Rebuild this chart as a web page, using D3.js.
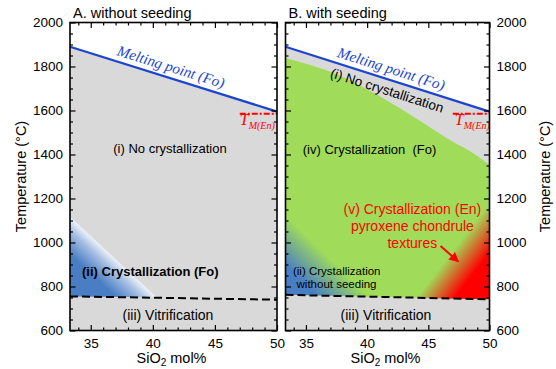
<!DOCTYPE html>
<html>
<head>
<meta charset="utf-8">
<script src="https://cdn.jsdelivr.net/npm/d3@7"></script>
<style>
  body { margin: 0; background: #fff; }
  svg { display: block; }
  text { font-family: "Liberation Sans", Arial, sans-serif; }
</style>
</head>
<body>
<div id="chart"></div>
<script>
// axis values
const xDomain = [33.33, 50];
const yDomain = [600, 2000];
const xMajorTicks = [35, 40, 45, 50];
const xMinorTicks = [34, 36, 37, 38, 39, 41, 42, 43, 44, 46, 47, 48, 49];
const yMajorTicks = [600, 800, 1000, 1200, 1400, 1600, 1800, 2000];

// boundaries, [SiO2 mol%, temperature C]
const meltingLineFo = [[33.33, 1890], [50, 1595]];
const meltingLineEn = [[47, 1585], [50, 1585]];
const glassLineA = [[33.33, 755], [50, 740]];
const glassLineB = [[33.33, 762], [50, 742]];
const unseededFoA = [[33.33, 1117], [40.3, 751], [33.33, 754]];
const unseededFoB = [[33.33, 1125], [40.2, 754], [33.33, 762]];
const seededFoTop = [[33.33, 1839], [37.8, 1758], [41.1, 1662], [44.4, 1550], [46.8, 1465], [48.9, 1398], [50, 1352]];
const seededEn = [[44.0, 748], [50, 742], [50, 1180]];

const WIDTH = 556;
const HEIGHT = 369;
const Y_RANGE = [330.5, 22.5];

const GRAY = '#d9d9d9';
const GREEN = '#a0dc5a';
const BLUE = '#4a7ec4';
const LINE_BLUE = '#1c44cf';
const RED = '#ff0000';

const svg = d3.select('#chart').append('svg').attr('width', WIDTH).attr('height', HEIGHT);
const defs = svg.append('defs');

const edgeGradient = (id, a, b, inner, depth, stops) => {
  const mx = (a[0] + b[0]) / 2;
  const my = (a[1] + b[1]) / 2;
  let nx = -(b[1] - a[1]);
  let ny = b[0] - a[0];
  const len = Math.hypot(nx, ny);
  nx /= len;
  ny /= len;
  if ((inner[0] - mx) * nx + (inner[1] - my) * ny < 0) {
    nx = -nx;
    ny = -ny;
  }
  const g = defs.append('linearGradient').attr('id', id)
    .attr('gradientUnits', 'userSpaceOnUse')
    .attr('x1', mx).attr('y1', my)
    .attr('x2', mx + nx * depth).attr('y2', my + ny * depth);
  stops.forEach(([offset, color, opacity]) => {
    g.append('stop').attr('offset', offset).attr('stop-color', color)
      .attr('stop-opacity', opacity === undefined ? 1 : opacity);
  });
  return `url(#${id})`;
};

const drawPanel = (panel) => {
  const x = d3.scaleLinear().domain(xDomain).range(panel.xRange);
  const y = d3.scaleLinear().domain(yDomain).range(Y_RANGE);
  const px = (d) => [x(d[0]), y(d[1])];
  const line = d3.line().x((d) => x(d[0])).y((d) => y(d[1]));
  const g = svg.append('g');

  // melt region below the Fo liquidus
  g.append('path')
    .attr('d', line([...meltingLineFo, [xDomain[1], yDomain[0]], [xDomain[0], yDomain[0]]]) + 'Z')
    .attr('fill', GRAY);

  panel.drawRegions(g, x, y, line, px);

  // glass transition
  g.append('path').attr('d', line(panel.glassLine))
    .attr('fill', 'none').attr('stroke', '#000')
    .attr('stroke-width', 2).attr('stroke-dasharray', '8,4');

  // liquidus
  g.append('path').attr('d', line(meltingLineFo))
    .attr('fill', 'none').attr('stroke', LINE_BLUE).attr('stroke-width', 2.2);
  g.append('path').attr('d', line(meltingLineEn))
    .attr('fill', 'none').attr('stroke', RED)
    .attr('stroke-width', 2).attr('stroke-dasharray', '6,2,2,2');

  const [p0, p1] = meltingLineFo.map(px);
  const angle = (Math.atan2(p1[1] - p0[1], p1[0] - p0[0]) * 180) / Math.PI;
  const slope = (meltingLineFo[1][1] - meltingLineFo[0][1]) / (meltingLineFo[1][0] - meltingLineFo[0][0]);
  const onLine = (sx) => [x(sx), y(meltingLineFo[0][1] + slope * (sx - meltingLineFo[0][0]))];

  const [mx, my] = onLine(panel.meltLabelX);
  g.append('text')
    .attr('transform', `translate(${mx},${my}) rotate(${angle})`)
    .attr('dy', -6).attr('text-anchor', 'middle')
    .style('font-family', '"Liberation Serif", "Times New Roman", serif')
    .style('font-style', 'italic').style('font-size', '15px')
    .attr('fill', LINE_BLUE).text('Melting point (Fo)');

  const tm = g.append('text')
    .attr('x', x(panel.tmLabelX)).attr('y', y(1534))
    .style('font-family', '"Liberation Serif", "Times New Roman", serif')
    .style('font-style', 'italic').attr('fill', RED);
  tm.append('tspan').style('font-size', '16px').text('T');
  tm.append('tspan').style('font-size', '10px').attr('dy', 4).text('M(En)');

  panel.drawLabels(g, x, y, onLine, angle);

  // frame and ticks
  g.append('rect')
    .attr('x', panel.xRange[0]).attr('y', Y_RANGE[1])
    .attr('width', panel.xRange[1] - panel.xRange[0])
    .attr('height', Y_RANGE[0] - Y_RANGE[1])
    .attr('fill', 'none').attr('stroke', '#000').attr('stroke-width', 1.6);

  const style = (sel) => {
    sel.select('.domain').remove();
    sel.selectAll('.tick line').attr('stroke-width', 1.2);
    sel.attr('font-size', 13.5).attr('font-family', '"Liberation Sans", Arial, sans-serif');
    sel.selectAll('.tick text').attr('fill', '#000');
  };
  const yMinorTicks = y.ticks(28).filter((t) => !yMajorTicks.includes(t));

  const axes = [
    [d3.axisBottom(x), `translate(0,${Y_RANGE[0]})`, xMajorTicks, xMinorTicks, true, 8],
    [d3.axisTop(x), `translate(0,${Y_RANGE[1]})`, xMajorTicks, xMinorTicks, false, 7],
    [d3.axisLeft(y), `translate(${panel.xRange[0]},0)`, yMajorTicks, yMinorTicks, panel.yLabels === 'left', 7],
    [d3.axisRight(y), `translate(${panel.xRange[1]},0)`, yMajorTicks, yMinorTicks, panel.yLabels === 'right', 7],
  ];
  axes.forEach(([axis, transform, major, minor, labelled, pad]) => {
    g.append('g').attr('transform', transform)
      .call(axis.tickValues(minor).tickSizeInner(-3).tickSizeOuter(0).tickFormat(''))
      .call(style);
    g.append('g').attr('transform', transform)
      .call(axis.tickValues(major).tickSizeInner(-5.5).tickSizeOuter(0)
        .tickPadding(pad)
        .tickFormat(labelled ? d3.format('d') : ''))
      .call(style);
  });

  // titles
  svg.append('text').attr('x', panel.xRange[0] + 3).attr('y', 18)
    .style('font-size', '14.5px').text(panel.title);

  const xt = svg.append('text')
    .attr('x', (panel.xRange[0] + panel.xRange[1]) / 2 - 2).attr('y', 363)
    .attr('text-anchor', 'middle').style('font-size', '14.5px');
  xt.append('tspan').text('SiO');
  xt.append('tspan').attr('dy', 3).style('font-size', '10px').text('2');
  xt.append('tspan').attr('dy', -3).text(' mol%');

  svg.append('text')
    .attr('transform', `translate(${panel.yTitleX},${(Y_RANGE[0] + Y_RANGE[1]) / 2}) rotate(-90)`)
    .attr('text-anchor', 'middle').attr('dy', '0.35em')
    .style('font-size', '14.5px').text('Temperature (°C)');
};

const panels = [
  {
    title: 'A. without seeding',
    xRange: [70, 277],
    yLabels: 'left',
    yTitleX: 21,
    glassLine: glassLineA,
    meltLabelX: 41.2,
    tmLabelX: 47.0,
    drawRegions: (g, x, y, line, px) => {
      const fill = edgeGradient('blueA', px(unseededFoA[0]), px(unseededFoA[1]), px(unseededFoA[2]), 32,
        [[0, '#eef2f9'], [0.3, '#a7c0e3'], [0.85, BLUE], [1, BLUE]]);
      g.append('path').attr('d', line(unseededFoA) + 'Z').attr('fill', fill);
    },
    drawLabels: (g, x, y) => {
      g.append('text').attr('x', x(41.38)).attr('y', y(1409)).attr('text-anchor', 'middle')
        .style('font-size', '13px').text('(i) No crystallization');
      g.append('text').attr('x', x(34.3)).attr('y', y(850))
        .style('font-size', '13px').style('font-weight', 'bold').text('(ii) Crystallization (Fo)');
      g.append('text').attr('x', x(41.22)).attr('y', y(650)).attr('text-anchor', 'middle')
        .style('font-size', '14px').text('(iii) Vitrification');
    },
  },
  {
    title: 'B. with seeding',
    xRange: [285.5, 489.5],
    yLabels: 'right',
    yTitleX: 545,
    glassLine: glassLineB,
    meltLabelX: 41.7,
    tmLabelX: 47.17,
    drawRegions: (g, x, y, line, px) => {
      const top = d3.line().x((d) => x(d[0])).y((d) => y(d[1])).curve(d3.curveMonotoneX);
      g.append('path').attr('d', top(seededFoTop) +
        `L${px(glassLineB[1])}L${px(glassLineB[0])}Z`).attr('fill', GREEN);
      const blue = edgeGradient('blueB', px(unseededFoB[0]), px(unseededFoB[1]), px(unseededFoB[2]), 40,
        [[0, GREEN], [0.9, BLUE], [1, BLUE]]);
      g.append('path').attr('d', line(unseededFoB) + 'Z').attr('fill', blue);
      const red = edgeGradient('redB', px(seededEn[0]), px(seededEn[2]), px(seededEn[1]), 36,
        [[0, RED, 0], [0.85, RED, 1], [1, RED, 1]]);
      g.append('path').attr('d', line(seededEn) + 'Z').attr('fill', red);
    },
    drawLabels: (g, x, y, onLine, angle) => {
      const [nx, ny] = onLine(41.9);
      g.append('text').attr('transform', `translate(${nx},${ny}) rotate(${angle})`)
        .attr('dy', 15.5).attr('text-anchor', 'middle')
        .style('font-size', '13.5px').text('(i) No crystallization');
      g.append('text').attr('x', x(34.74)).attr('y', y(1402))
        .style('font-size', '13px').style('white-space', 'pre').text('(iv) Crystallization  (Fo)');
      [['(v) Crystallization (En)', 1130], ['pyroxene chondrule', 1052], ['textures', 975]].forEach(([t, ty]) => {
        g.append('text').attr('x', x(43.7)).attr('y', y(ty)).attr('text-anchor', 'middle')
          .style('font-size', '14px').attr('fill', RED).text(t);
      });
      defs.append('marker').attr('id', 'arrow').attr('viewBox', '0 0 10 10')
        .attr('refX', 8).attr('refY', 5).attr('markerWidth', 5).attr('markerHeight', 5)
        .attr('orient', 'auto')
        .append('path').attr('d', 'M0,0L10,5L0,10Z').attr('fill', RED);
      g.append('line')
        .attr('x1', x(46.0)).attr('y1', y(984)).attr('x2', x(47.4)).attr('y2', y(916))
        .attr('stroke', RED).attr('stroke-width', 2).attr('marker-end', 'url(#arrow)');
      g.append('text').attr('x', x(33.94)).attr('y', y(852))
        .style('font-size', '11.5px').text('(ii) Crystallization');
      g.append('text').attr('x', x(37.5)).attr('y', y(795)).attr('text-anchor', 'middle')
        .style('font-size', '11.5px').text('without seeding');
      g.append('text').attr('x', x(41.54)).attr('y', y(650)).attr('text-anchor', 'middle')
        .style('font-size', '14px').text('(iii) Vitrification');
    },
  },
];

panels.forEach(drawPanel);
</script>
</body>
</html>
